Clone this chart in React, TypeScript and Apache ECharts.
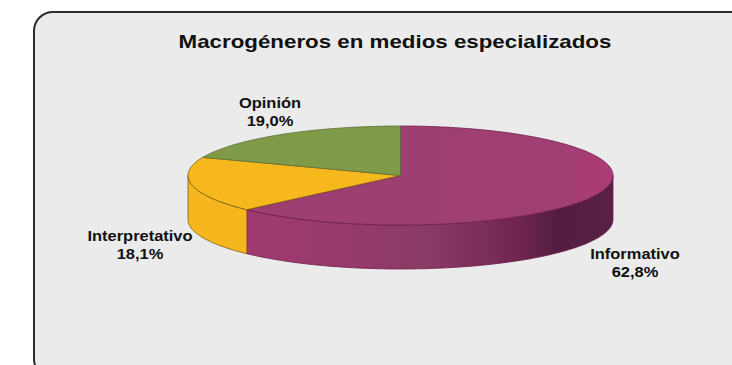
import React, { useEffect, useRef } from "react";
import * as echarts from "echarts";

const chartTitle = "Macrogéneros en medios especializados";
const genres = ["Informativo", "Interpretativo", "Opinión"];
const shares = [62.8, 18.1, 19.0];
const faceColors = ["#9e3f73", "#f6b81c", "#7f9b48"];
const edgeColors = ["#6e1c4a", "#7a5a18", "#5f6f38"];

// Geometry of the tilted disc
const CX = 400.5;
const CY = 175.5;
const RX = 212.5;
const RY = 49.5;
const DEPTH = 44;
const FONT = "'Liberation Sans', Arial, sans-serif";
// The lettering is set wide, so glyphs get a horizontal stretch
const TEXT_STRETCH = 1.175;

const labelSpots = [
  { x: 635, y: 262.5 },
  { x: 140, y: 245 },
  { x: 270, y: 112 },
];

const rad = (deg: number) => (deg * Math.PI) / 180;
const rimPoint = (deg: number, drop = 0): number[] => [
  CX + RX * Math.sin(rad(deg)),
  CY - RY * Math.cos(rad(deg)) + drop,
];

const arcPoints = (from: number, to: number, drop = 0): number[][] => {
  const pts: number[][] = [];
  const n = Math.max(2, Math.ceil(Math.abs(to - from)));
  for (let i = 0; i <= n; i++) pts.push(rimPoint(from + ((to - from) * i) / n, drop));
  return pts;
};

const total = shares.reduce((a, b) => a + b, 0);

const horizontal = (x: number, x2: number, colorStops: { offset: number; color: string }[]) => ({
  type: "linear",
  global: true,
  x,
  y: 0,
  x2,
  y2: 0,
  colorStops,
});

// Wall of the disc: only the part facing the viewer, 90° to 270° clockwise from the top
const sideFill = (index: number) =>
  index === 0
    ? horizontal(247, 613, [
        { offset: 0, color: "#a13a70" },
        { offset: 0.5, color: "#8b3a66" },
        { offset: 0.75, color: "#6e2550" },
        { offset: 0.85, color: "#531d40" },
        { offset: 1, color: "#5a2045" },
      ])
    : "#f5b71d";

// The large slice brightens a little towards its right rim
const faceFill = (index: number) =>
  index === 0
    ? horizontal(400, 613, [
        { offset: 0, color: faceColors[0] },
        { offset: 0.75, color: "#a03f74" },
        { offset: 1, color: "#ae3b76" },
      ])
    : faceColors[index];

const renderSlice = (params: any, api: any) => {
  const index = params.dataIndex;
  const before = shares.slice(0, index).reduce((a, b) => a + b, 0);
  const start = (before / total) * 360;
  const end = ((before + api.value(0)) / total) * 360;
  const children: any[] = [];

  const wallFrom = Math.max(start, 90);
  const wallTo = Math.min(end, 270);
  if (wallTo > wallFrom) {
    children.push({
      type: "polygon",
      shape: {
        points: [...arcPoints(wallFrom, wallTo), ...arcPoints(wallTo, wallFrom, DEPTH)],
      },
      style: { fill: sideFill(index), stroke: edgeColors[index], lineWidth: 0.8 },
    });
  }
  children.push({
    type: "polygon",
    shape: { points: [[CX, CY], ...arcPoints(start, end)] },
    style: { fill: faceFill(index), stroke: edgeColors[index], lineWidth: 0.8 },
  });
  return { type: "group", children };
};

export default function App() {
  const ref = useRef<HTMLDivElement>(null);
  useEffect(() => {
    const chart = echarts.init(ref.current!, undefined, { renderer: "svg" });
    chart.setOption({
      animation: false,
      backgroundColor: "#ffffff",
      graphic: [
        {
          type: "rect",
          z: -1,
          shape: { x: 34, y: 12, width: 740, height: 366, r: 19 },
          style: { fill: "#ebebeb", stroke: "#2b2b2b", lineWidth: 2 },
        },
        {
          type: "text",
          z: 5,
          x: 395,
          y: 41,
          scaleX: TEXT_STRETCH,
          style: {
            text: chartTitle,
            fontFamily: FONT,
            fontSize: 19,
            fontWeight: "bold",
            fill: "#111111",
            align: "center",
            verticalAlign: "middle",
          },
        },
        ...genres.map((g, i) => ({
          type: "text",
          z: 5,
          x: labelSpots[i].x,
          y: labelSpots[i].y,
          scaleX: TEXT_STRETCH,
          style: {
            text: `${g}\n${shares[i].toFixed(1).replace(".", ",")}%`,
            fontFamily: FONT,
            fontSize: 14,
            fontWeight: "bold",
            lineHeight: 18,
            fill: "#111111",
            align: "center",
            verticalAlign: "middle",
          },
        })),
      ],
      series: [
        {
          type: "custom",
          coordinateSystem: "none",
          renderItem: renderSlice,
          data: shares.map((v) => [v]),
          silent: true,
          z: 2,
        },
      ],
    });
    return () => chart.dispose();
  }, []);
  return (
    <div
      ref={ref}
      style={{ position: "fixed", left: 0, top: 0, width: 732, height: 365 }}
    />
  );
}
